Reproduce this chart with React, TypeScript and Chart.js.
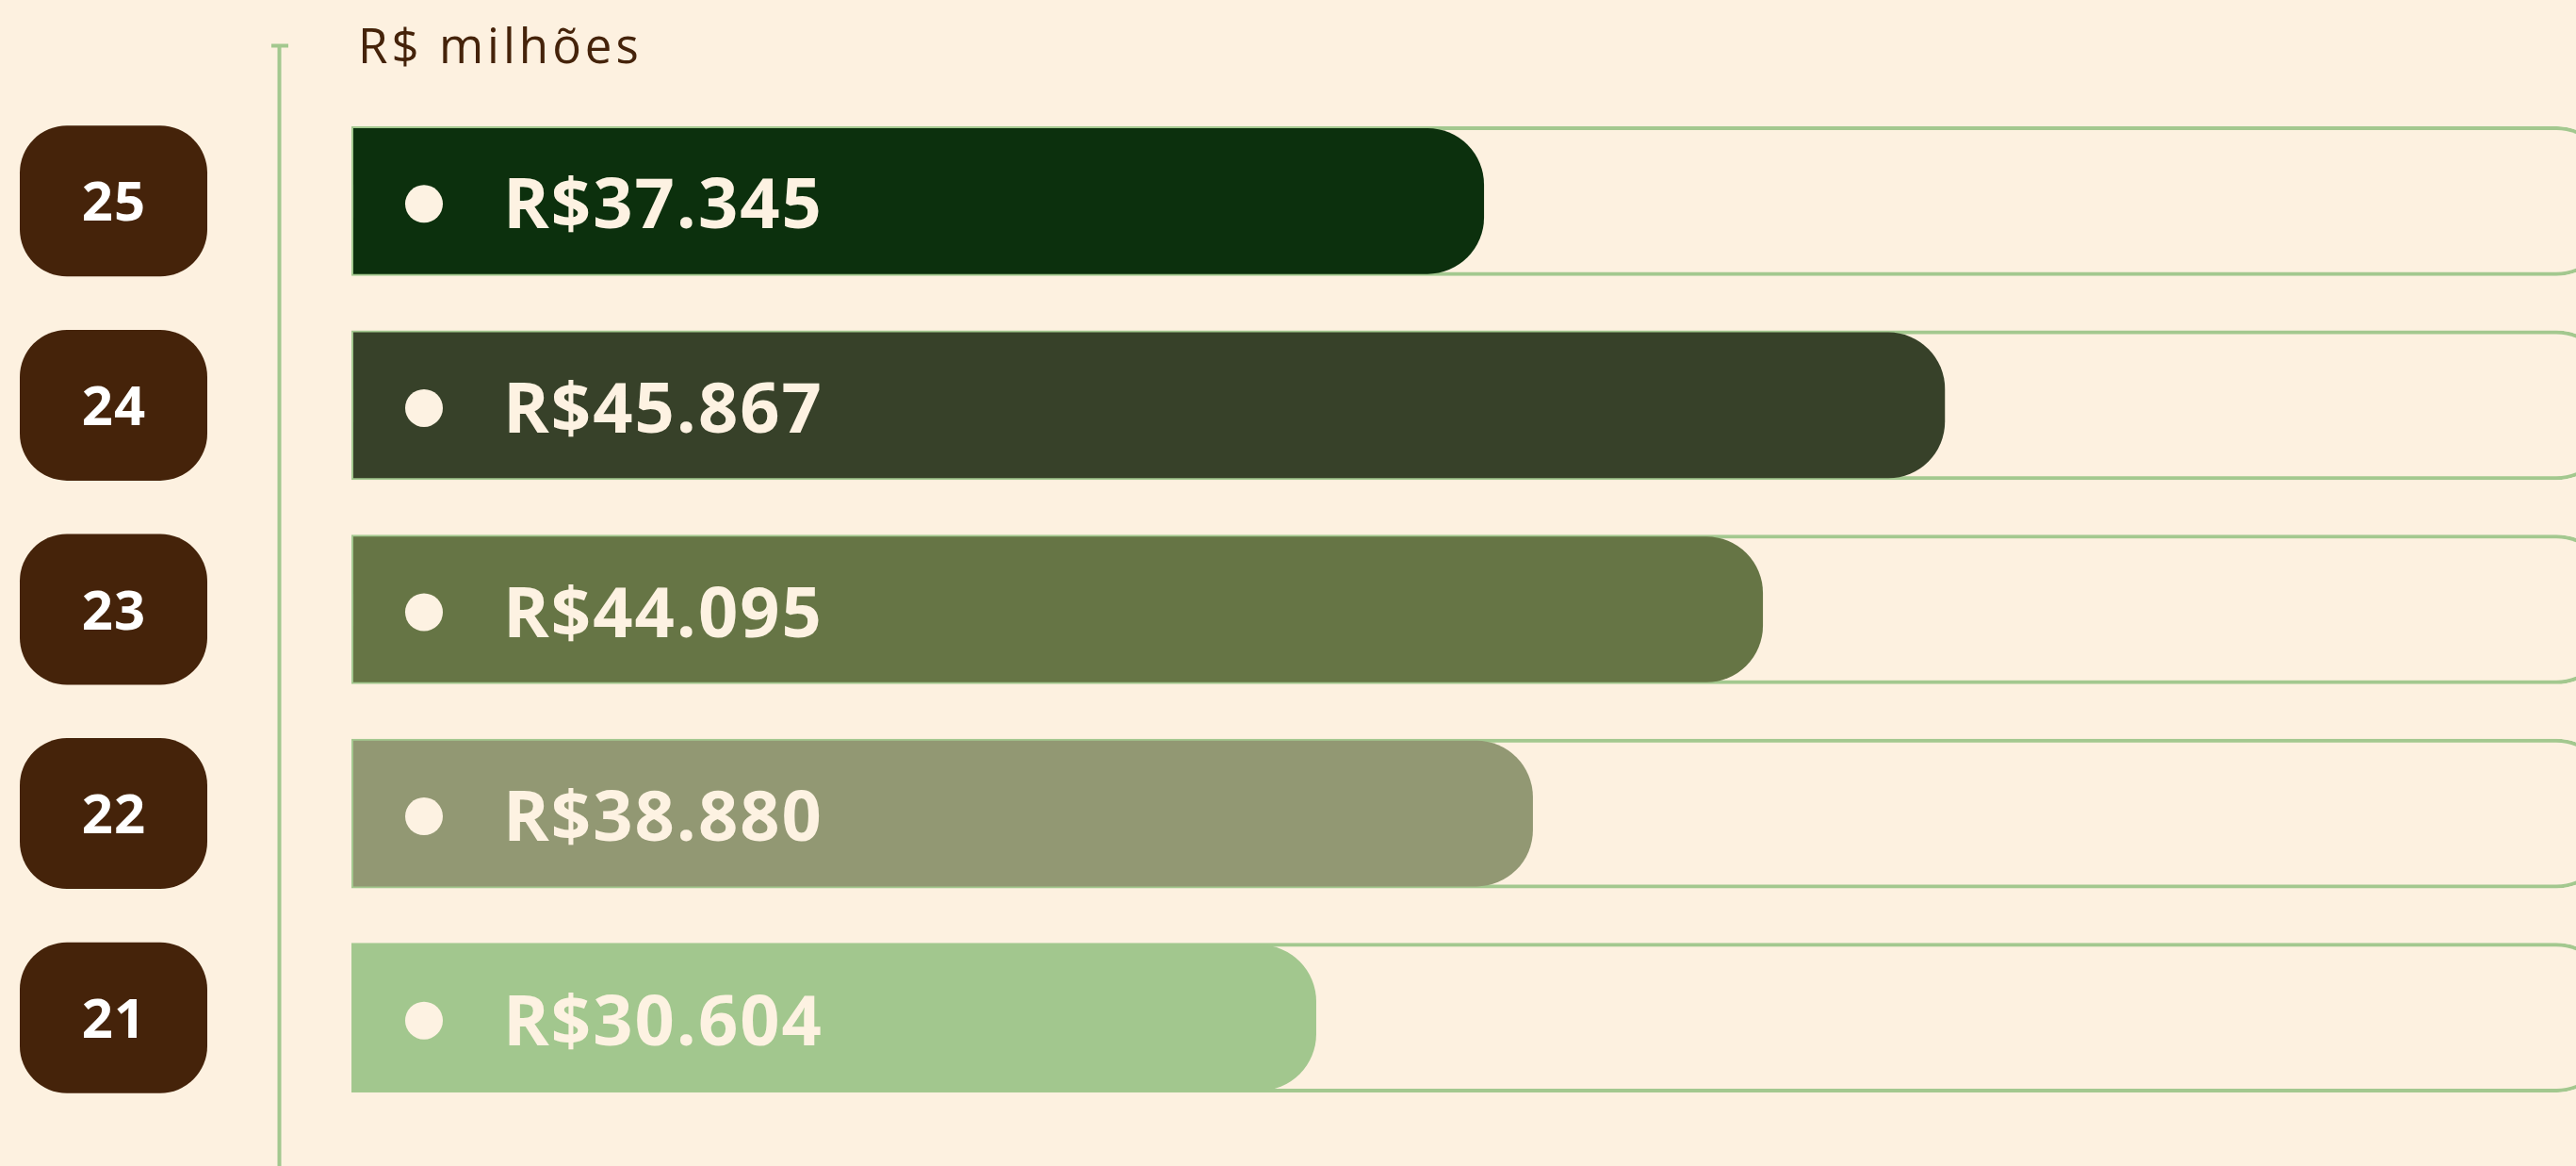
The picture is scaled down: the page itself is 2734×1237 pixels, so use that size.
import React, { useEffect, useRef } from 'react';
import { Chart, registerables } from 'chart.js';

Chart.register(...registerables);

// ---- data ----
const categories: string[] = ['25', '24', '23', '22', '21'];
const valuesMillions: number[] = [37345, 45867, 44095, 38880, 30604];
// bar lengths as drawn, in percent of the (hidden) horizontal axis
const barLengths: number[] = [50.85, 71.59, 63.4, 53.05, 43.3];
const trackEnd = 101.65;
const barColors: string[] = ['#0c300d', '#374129', '#667545', '#929873', '#a2c78e'];
const unitLabel = 'R$ milhões';

// ---- style ----
const W = 2734;
const H = 1237;
const BG = '#fdf1e0';
const GREEN = '#a3c88f';
const BROWN = '#45230a';
const CREAM = '#fdf2e2';
const FONT = '"Open Sans", "Noto Sans", sans-serif';

function fmt(v: number): string {
  return 'R$' + String(v).replace(/\B(?=(\d{3})+(?!\d))/g, '.');
}

const decor = {
  id: 'decor',
  beforeDraw(chart: any) {
    const ctx: CanvasRenderingContext2D = chart.ctx;
    ctx.save();
    ctx.fillStyle = BG;
    ctx.fillRect(0, 0, chart.width, chart.height);

    // axis line + top tick
    ctx.strokeStyle = GREEN;
    ctx.lineWidth = 4;
    ctx.beginPath();
    ctx.moveTo(296.5, 47);
    ctx.lineTo(296.5, chart.height);
    ctx.stroke();
    ctx.beginPath();
    ctx.moveTo(288, 48.5);
    ctx.lineTo(306, 48.5);
    ctx.stroke();

    // unit title
    ctx.fillStyle = BROWN;
    ctx.font = `400 51px ${FONT}`;
    ctx.textAlign = 'left';
    ctx.textBaseline = 'alphabetic';
    (ctx as any).letterSpacing = '4px';
    ctx.fillText(unitLabel, 380, 67);

    // category pills
    const yScale = chart.scales.y;
    (ctx as any).letterSpacing = '1px';
    categories.forEach((c, i) => {
      const cy = yScale.getPixelForValue(i);
      ctx.fillStyle = BROWN;
      ctx.beginPath();
      (ctx as any).roundRect(21, cy - 80, 199, 160, 50);
      ctx.fill();
      ctx.fillStyle = '#ffffff';
      ctx.font = `700 58px ${FONT}`;
      ctx.textAlign = 'center';
      ctx.textBaseline = 'alphabetic';
      ctx.fillText(c, 121, cy + 21);
    });
    ctx.restore();
  },
  afterDatasetsDraw(chart: any) {
    const ctx: CanvasRenderingContext2D = chart.ctx;
    const yScale = chart.scales.y;
    const left = chart.chartArea.left;
    ctx.save();
    categories.forEach((_, i) => {
      const cy = yScale.getPixelForValue(i);
      ctx.fillStyle = CREAM;
      ctx.beginPath();
      ctx.arc(left + 77, cy + 3, 20, 0, Math.PI * 2);
      ctx.fill();
      ctx.font = `700 74px ${FONT}`;
      (ctx as any).letterSpacing = '2px';
      ctx.textAlign = 'left';
      ctx.textBaseline = 'alphabetic';
      ctx.fillText(fmt(valuesMillions[i]), left + 161, cy + 29);
    });
    ctx.restore();
  },
};

export default function App() {
  const ref = useRef<HTMLCanvasElement | null>(null);

  useEffect(() => {
    document.body.style.margin = '0';
    document.body.style.background = BG;
    const canvas = ref.current;
    if (!canvas) return;
    const chart = new Chart(canvas, {
      type: 'bar',
      data: {
        labels: categories,
        datasets: [
          {
            label: 'valor',
            data: barLengths,
            backgroundColor: barColors,
            borderWidth: 0,
            borderSkipped: false,
            borderRadius: { topLeft: 0, bottomLeft: 0, topRight: 60, bottomRight: 60 },
            barThickness: 154,
            grouped: false,
            order: 1,
          } as any,
          {
            label: 'trilha',
            data: categories.map(() => [-0.1, trackEnd]),
            backgroundColor: BG,
            borderColor: GREEN,
            borderWidth: 4,
            borderSkipped: false,
            borderRadius: { topLeft: 0, bottomLeft: 0, topRight: 60, bottomRight: 60 },
            barThickness: 158,
            grouped: false,
            order: 2,
          } as any,
        ],
      },
      options: {
        indexAxis: 'y',
        responsive: false,
        animation: false,
        devicePixelRatio: 1,
        layout: { padding: { left: 373, right: 0, top: 105, bottom: 49 } },
        scales: {
          x: { display: false, min: -0.1, max: 100 },
          y: { display: false, offset: true },
        },
        plugins: {
          legend: { display: false },
          tooltip: { enabled: false },
        },
      },
      plugins: [decor],
    });
    return () => chart.destroy();
  }, []);

  return (
    <div style={{ width: W, height: H, background: BG }}>
      <canvas ref={ref} width={W} height={H} style={{ display: 'block', width: W, height: H }} />
    </div>
  );
}
